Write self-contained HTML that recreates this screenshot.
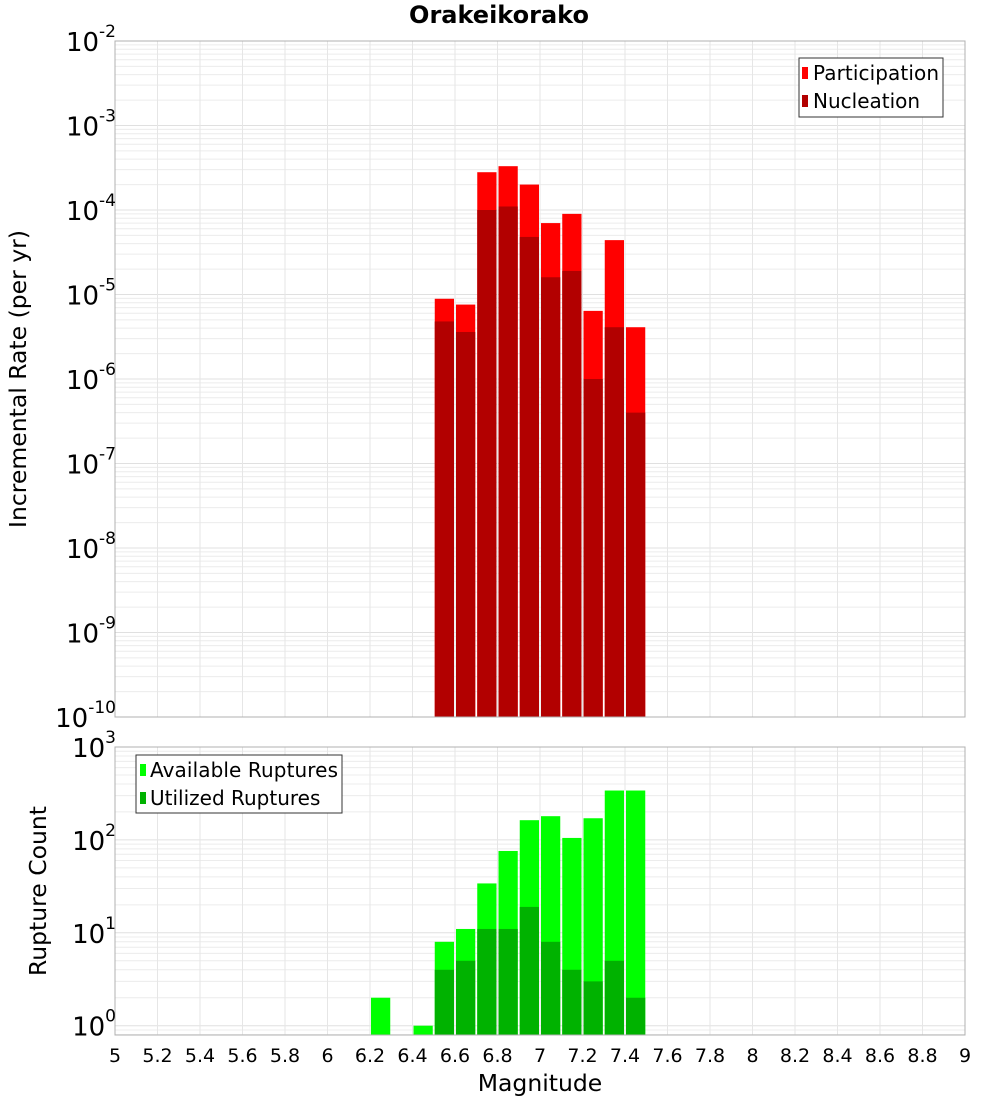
<!DOCTYPE html>
<html><head><meta charset="utf-8"><style>
body{margin:0;background:#fff;position:relative}
svg text{font-family:"DejaVu Sans","Liberation Sans",sans-serif}
</style></head><body>
<svg id="chart" width="1000" height="1100" xmlns="http://www.w3.org/2000/svg"></svg>
<script>
const binCenters = [6.55,6.65,6.75,6.85,6.95,7.05,7.15,7.25,7.35,7.45];
const participation = [8.9e-6,7.6e-6,2.8e-4,3.3e-4,2.0e-4,7.0e-5,9.0e-5,6.4e-6,4.4e-5,4.1e-6];
const nucleation = [4.8e-6,3.6e-6,1.0e-4,1.1e-4,4.8e-5,1.6e-5,1.9e-5,1.0e-6,4.1e-6,4.0e-7];
const countCenters = [6.25,6.45,6.55,6.65,6.75,6.85,6.95,7.05,7.15,7.25,7.35,7.45];
const available = [2,1,8,11,34,76,163,180,105,171,340,340];
const utilized = [0,0,4,5,11,11,19,8,4,3,5,2];
const xTicks = [5,5.2,5.4,5.6,5.8,6,6.2,6.4,6.6,6.8,7,7.2,7.4,7.6,7.8,8,8.2,8.4,8.6,8.8,9];
const xTickLabels = ["5","5.2","5.4","5.6","5.8","6","6.2","6.4","6.6","6.8","7","7.2","7.4","7.6","7.8","8","8.2","8.4","8.6","8.8","9"];
const topExps = [-2,-3,-4,-5,-6,-7,-8,-9,-10];
const botExps = [3,2,1,0];

const svg = document.getElementById('chart');
const NS = 'http://www.w3.org/2000/svg';
function el(tag, attrs, parent){const e=document.createElementNS(NS,tag);for(const k in attrs)e.setAttribute(k,attrs[k]);(parent||svg).appendChild(e);return e;}
const L=115,R=965;
const x = v => L + (v-5)/4*(R-L);
const T1=41,B1=717; const yTop = v => T1 + (-2 - Math.log10(v))*(B1-T1)/8;
const T2=747,B2=1035,dec2=92.9; const yBot = v => T2 + (3 - Math.log10(v))*dec2;

function grid(top,bot,yf,lo,hi,name){
  const g=el('g',{});
  
  
  for(let e=lo;e<hi;e++){for(let m=1;m<10;m++){const v=m*Math.pow(10,e);const y=yf(v);if(y<top-0.5||y>bot+0.5)continue;
    el('line',{x1:L,x2:R,y1:y,y2:y,stroke:m===1?'#e0e0e0':'#ececec','stroke-width':1},g);}}
  xTicks.forEach(t=>{el('line',{x1:x(t),x2:x(t),y1:top,y2:bot,stroke:'#e6e6e6','stroke-width':1},g);});
}
grid(T1,B1,yTop,-10,-1,'top-grid');
grid(T2,B2,yBot,-1,3,'bottom-grid');

const bw = x(5.1)-x(5)-2;
binCenters.forEach((c,i)=>{
  let r=el('rect',{x:x(c)-bw/2,y:yTop(participation[i]),width:bw,height:B1-yTop(participation[i]),fill:'#ff0000'});
  
  
  r=el('rect',{x:x(c)-bw/2,y:yTop(nucleation[i]),width:bw,height:B1-yTop(nucleation[i]),fill:'#b20000'});
  
  
});
countCenters.forEach((c,i)=>{
  let r=el('rect',{x:x(c)-bw/2,y:yBot(available[i]),width:bw,height:B2-yBot(available[i]),fill:'#00ff00'});
  
  
  if(utilized[i]>0){
  r=el('rect',{x:x(c)-bw/2,y:yBot(utilized[i]),width:bw,height:B2-yBot(utilized[i]),fill:'#00b200'});
  
  }
});
el('rect',{x:L,y:T1,width:R-L,height:B1-T1,fill:'none',stroke:'#b0b0b0'});
el('rect',{x:L,y:T2,width:R-L,height:B2-T2,fill:'none',stroke:'#b0b0b0'});

topExps.forEach(e=>{const t=el('text',{x:116,y:yTop(Math.pow(10,e))+10,'text-anchor':'end','font-size':26});
  
  
  t.innerHTML='10<tspan dy="-14" font-size="17">'+e+'</tspan>';});
botExps.forEach(e=>{const t=el('text',{x:116,y:yBot(Math.pow(10,e))+10,'text-anchor':'end','font-size':26});
  
  
  t.innerHTML='10<tspan dy="-14" font-size="17">'+e+'</tspan>';});
xTicks.forEach((t,i)=>{const tx=el('text',{x:x(t),y:1062,'text-anchor':'middle','font-size':19});
  
  
  tx.textContent=xTickLabels[i];});
</script>
<svg width="1000" height="1100" style="position:absolute;left:0;top:0" xmlns="http://www.w3.org/2000/svg">
<text x="499" y="23" text-anchor="middle" font-size="24" font-weight="bold">Orakeikorako</text>
<text x="540" y="1091" text-anchor="middle" font-size="23.5">Magnitude</text>
<text transform="translate(26,379) rotate(-90)" text-anchor="middle" font-size="23.5">Incremental Rate (per yr)</text>
<text transform="translate(46,891) rotate(-90)" text-anchor="middle" font-size="23.5">Rupture Count</text>
<g>
<rect x="799" y="58" width="144" height="59" fill="#fff" stroke="#333"/>
<rect x="802" y="67" width="6" height="12" fill="#ff0000"/>
<text x="813" y="80" font-size="20" textLength="126">Participation</text>
<rect x="802" y="95" width="6" height="12" fill="#b20000"/>
<text x="813" y="108" font-size="20">Nucleation</text>
</g>
<g>
<rect x="136" y="755" width="206" height="58" fill="#fff" stroke="#333"/>
<rect x="140" y="764" width="6" height="12" fill="#00ff00"/>
<text x="150" y="777" font-size="20" textLength="188">Available Ruptures</text>
<rect x="140" y="792" width="6" height="12" fill="#00b200"/>
<text x="150" y="805" font-size="20">Utilized Ruptures</text>
</g>
</svg>
</body></html>
